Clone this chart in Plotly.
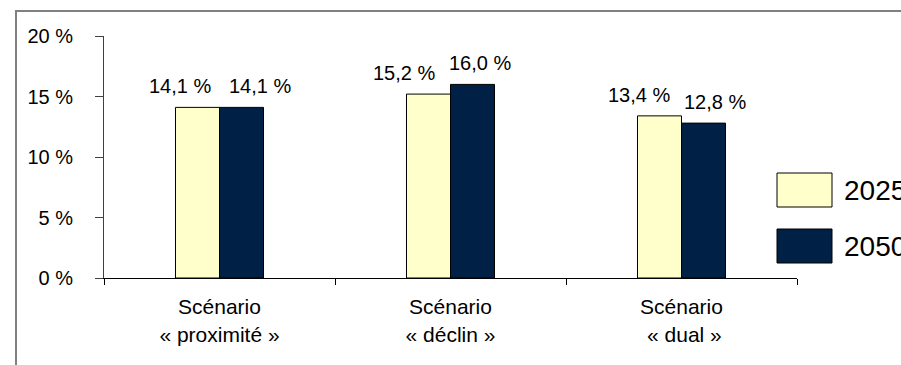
import plotly.graph_objects as go

# Share by scenario, two horizons
scenarios = ["Scénario<br>« proximité »", "Scénario<br>« déclin »", "Scénario<br> « dual »"]
years = ["2025", "2050"]
values_2025 = [14.1, 15.2, 13.4]
values_2050 = [14.1, 16.0, 12.8]
label_2025 = ["14,1 %", "15,2 %", "13,4 %"]
label_2050 = ["14,1 %", "16,0 %", "12,8 %"]
y_ticks = [0, 5, 10, 15, 20]
y_tick_text = ["0 %", "5 %", "10 %", "15 %", "20 %"]

colors = ["#FFFFCC", "#002046"]
FONT = "Liberation Sans, Arial, sans-serif"

W, H = 901, 365
ML, MR, MT, MB = 104, 104, 36, 87
PW, PH = W - ML - MR, H - MT - MB


def px(x):
    return (x - ML) / PW


def py(y):
    return (H - MB - y) / PH


fig = go.Figure()
for name, vals, col in [(years[0], values_2025, colors[0]), (years[1], values_2050, colors[1])]:
    fig.add_trace(go.Bar(
        x=scenarios, y=vals, name=name, marker_color=col,
        marker_line=dict(color="#000000", width=1), showlegend=False,
    ))

# value labels placed beside each other above the bar pairs
shift_2025 = [-40, -47, -43]
shift_2050 = [40, 29, 33]
annotations = []
for i, s in enumerate(scenarios):
    for vals, labels, shifts in [(values_2025, label_2025, shift_2025),
                                 (values_2050, label_2050, shift_2050)]:
        annotations.append(dict(
            x=s, y=vals[i], xref="x", yref="y", text=labels[i], showarrow=False,
            xshift=shifts[i], yshift=8, yanchor="bottom",
            font=dict(family=FONT, size=20, color="#000000"),
        ))

# legend drawn as large swatches on the right
shapes = []
legend_rows = [(173, 207), (229, 263)]
for (top, bot), col, yr in zip(legend_rows, colors, years):
    shapes.append(dict(type="rect", xref="paper", yref="paper",
                       x0=px(777), x1=px(832), y0=py(bot), y1=py(top),
                       fillcolor=col, line=dict(color="#000000", width=1)))
    annotations.append(dict(x=px(842), y=py((top + bot) / 2), xref="paper", yref="paper",
                            text=yr, showarrow=False, xanchor="left", yanchor="middle",
                            font=dict(family=FONT, size=28, color="#000000")))

# outer frame
shapes.append(dict(type="rect", xref="paper", yref="paper",
                   x0=px(16), x1=px(W + 10), y0=py(H + 10), y1=py(11),
                   line=dict(color="#808080", width=2), fillcolor="rgba(0,0,0,0)", layer="below"))

fig.update_layout(
    width=W, height=H,
    margin=dict(l=ML, r=MR, t=MT, b=MB, pad=0),
    paper_bgcolor="#FFFFFF", plot_bgcolor="#FFFFFF",
    barmode="group", bargap=0.619, bargroupgap=0,
    font=dict(family=FONT, size=20, color="#000000"),
    annotations=annotations, shapes=shapes,
    xaxis=dict(
        showgrid=False, showline=True, linecolor="#000000", linewidth=1,
        ticks="outside", tickson="boundaries", ticklen=6, tickcolor="#000000",
        tickfont=dict(family=FONT, size=21), zeroline=False, ticklabelstandoff=10,
    ),
    yaxis=dict(
        range=[0, 20], tickvals=y_ticks, ticktext=y_tick_text,
        showgrid=False, zeroline=False, showline=True, linecolor="#404040", linewidth=1,
        ticks="outside", ticklen=8, tickcolor="#404040",
        tickfont=dict(family=FONT, size=20), ticklabelstandoff=18,
    ),
)

fig.write_html("out.html")
